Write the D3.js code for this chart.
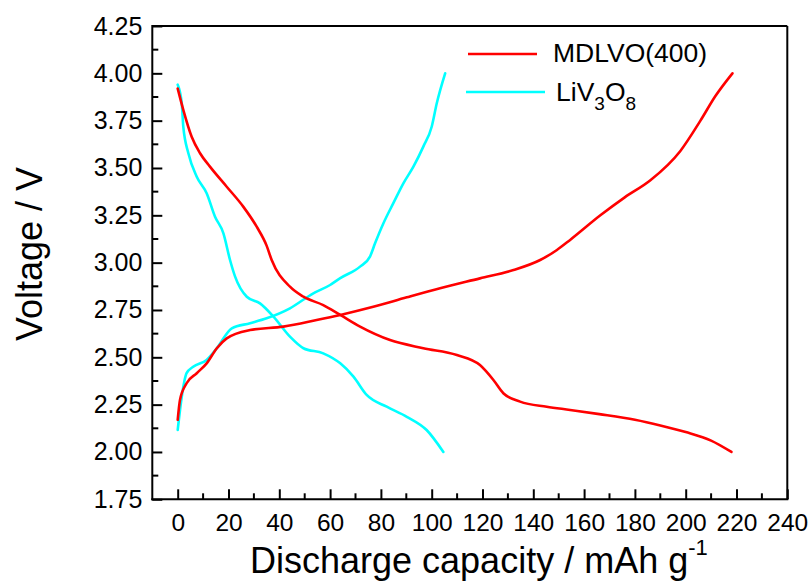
<!DOCTYPE html>
<html>
<head>
<meta charset="utf-8">
<script src="https://cdn.jsdelivr.net/npm/d3@7/dist/d3.min.js"></script>
<style>
  html, body { margin: 0; padding: 0; background: #fff; }
  svg { display: block; font-family: Arial, "Liberation Sans", sans-serif; }
</style>
</head>
<body>
<svg id="chart" width="811" height="585"></svg>
<script>
// Capacity (mAh/g) and voltage (V) for each curve
const mdlvoDischargeCap = [0, 2.2, 5.5, 8.8, 12.7, 19.3, 25.8, 31.1, 35, 37, 44.2, 49.5, 57.3, 64, 71.8, 83.6, 96.7, 109.9, 119, 124.3, 128.2, 134.8, 145.3, 154.5, 166, 180, 190, 200, 210, 218];
const mdlvoDischargeV   = [3.92, 3.807, 3.665, 3.578, 3.507, 3.401, 3.296, 3.19, 3.09, 3.014, 2.873, 2.82, 2.776, 2.724, 2.662, 2.591, 2.548, 2.512, 2.459, 2.38, 2.31, 2.266, 2.239, 2.222, 2.2, 2.17, 2.14, 2.105, 2.06, 2.0];

const mdlvoChargeCap = [0, 0.9, 3.5, 7.5, 11.4, 15.4, 19.3, 28.5, 41.6, 54.7, 64, 77, 90.2, 103.3, 119, 132.2, 142.7, 149.3, 154.5, 166.4, 176, 186.1, 197.9, 205.8, 211.7, 218.4];
const mdlvoChargeV   = [2.17, 2.275, 2.363, 2.416, 2.468, 2.548, 2.6, 2.644, 2.662, 2.697, 2.724, 2.767, 2.817, 2.865, 2.917, 2.961, 3.014, 3.067, 3.12, 3.25, 3.345, 3.435, 3.59, 3.75, 3.88, 4.0];

const lvoDischargeCap = [0, 1.6, 2.2, 4.2, 7.5, 11.4, 14.7, 18, 20.6, 22.6, 27.2, 32.4, 37.7, 44.2, 49.5, 57.3, 64, 69.2, 74.4, 82.3, 90.2, 98, 104.6];
const lvoDischargeV   = [3.94, 3.842, 3.718, 3.578, 3.454, 3.367, 3.243, 3.155, 3.014, 2.926, 2.82, 2.785, 2.715, 2.609, 2.548, 2.521, 2.468, 2.398, 2.301, 2.239, 2.186, 2.116, 2.0];

const lvoChargeCap = [0, 1.6, 3.5, 6.1, 11.4, 15.4, 21.3, 28.5, 35, 44.2, 53.4, 60, 64, 71.8, 75.7, 77.7, 81, 84.9, 88.9, 92.8, 96.7, 100, 102, 105.3];
const lvoChargeV   = [2.116, 2.292, 2.416, 2.45, 2.486, 2.548, 2.653, 2.68, 2.706, 2.759, 2.838, 2.882, 2.918, 2.979, 3.032, 3.102, 3.208, 3.314, 3.42, 3.507, 3.613, 3.718, 3.842, 4.0];

const xTickValues = [0, 20, 40, 60, 80, 100, 120, 140, 160, 180, 200, 220, 240];
const yTickValues = [1.75, 2.00, 2.25, 2.50, 2.75, 3.00, 3.25, 3.50, 3.75, 4.00, 4.25];

const seriesNames = ["MDLVO(400)", "LiV3O8"];
const seriesColors = ["#ff0000", "#00ffff"];

const svg = d3.select("#chart");
const plot = { left: 152.3, right: 787.3, top: 26, bottom: 499.3 };

const x = d3.scaleLinear().domain([-10, 240]).range([plot.left, plot.right]);
const y = d3.scaleLinear().domain([1.75, 4.25]).range([plot.bottom, plot.top]);

// Frame: top and right edges without ticks
svg.append("line").attr("x1", plot.left).attr("x2", plot.right).attr("y1", plot.top).attr("y2", plot.top)
  .attr("stroke", "#000").attr("stroke-width", 2);
svg.append("line").attr("x1", plot.right).attr("x2", plot.right).attr("y1", plot.top).attr("y2", plot.bottom)
  .attr("stroke", "#000").attr("stroke-width", 2);

// Minor ticks (half steps)
const xMinor = d3.range(-10, 241, 20).filter(v => v > -10);
const yMinor = d3.range(1.875, 4.25, 0.25);

const xAxis = d3.axisBottom(x).tickValues(xTickValues).tickSizeInner(-10).tickSizeOuter(0).tickPadding(14)
  .tickFormat(d3.format("d"));
const gx = svg.append("g").attr("transform", `translate(0,${plot.bottom})`).call(xAxis);
gx.select(".domain").attr("stroke-width", 2).attr("d", `M${plot.left - 1},0H${plot.right + 1}`);
gx.selectAll(".tick line").attr("stroke-width", 2);
gx.selectAll(".tick text").attr("font-size", 24.5).attr("font-family", "Arial, 'Liberation Sans', sans-serif").attr("fill", "#000");
gx.selectAll(".minor").data(xMinor).enter().append("line")
  .attr("x1", d => x(d)).attr("x2", d => x(d)).attr("y1", 0).attr("y2", -6)
  .attr("stroke", "#000").attr("stroke-width", 2);

const yAxis = d3.axisLeft(y).tickValues(yTickValues).tickSizeInner(-10).tickSizeOuter(0).tickPadding(10)
  .tickFormat(d3.format(".2f"));
const gy = svg.append("g").attr("transform", `translate(${plot.left},0)`).call(yAxis);
gy.select(".domain").attr("stroke-width", 2).attr("d", `M0,${plot.top - 1}V${plot.bottom + 1}`);
gy.selectAll(".tick line").attr("stroke-width", 2);
gy.selectAll(".tick text").attr("font-size", 25).attr("font-family", "Arial, 'Liberation Sans', sans-serif").attr("fill", "#000");
gy.selectAll(".minor").data(yMinor).enter().append("line")
  .attr("x1", 0).attr("x2", 6).attr("y1", d => y(d)).attr("y2", d => y(d))
  .attr("stroke", "#000").attr("stroke-width", 2);

// Curves
const line = d3.line().x(d => x(d[0])).y(d => y(d[1])).curve(d3.curveMonotoneX);
const zip = (a, b) => a.map((v, i) => [v, b[i]]);
const curves = [
  { pts: zip(lvoDischargeCap, lvoDischargeV), color: seriesColors[1] },
  { pts: zip(lvoChargeCap, lvoChargeV), color: seriesColors[1] },
  { pts: zip(mdlvoDischargeCap, mdlvoDischargeV), color: seriesColors[0] },
  { pts: zip(mdlvoChargeCap, mdlvoChargeV), color: seriesColors[0] }
];
svg.append("g").selectAll("path").data(curves).enter().append("path")
  .attr("d", d => line(d.pts))
  .attr("fill", "none")
  .attr("stroke", d => d.color)
  .attr("stroke-width", 2.6)
  .attr("stroke-linejoin", "round")
  .attr("stroke-linecap", "round");

// Legend
const legend = svg.append("g");
legend.append("line").attr("x1", 468).attr("x2", 537).attr("y1", 54).attr("y2", 54)
  .attr("stroke", seriesColors[0]).attr("stroke-width", 2.6);
legend.append("text").attr("x", 553).attr("y", 62).attr("font-size", 26.5).text(seriesNames[0]);
legend.append("line").attr("x1", 466).attr("x2", 545).attr("y1", 92).attr("y2", 92)
  .attr("stroke", seriesColors[1]).attr("stroke-width", 2.6);
const t2 = legend.append("text").attr("x", 556).attr("y", 101).attr("font-size", 26.5);
t2.append("tspan").text("LiV");
t2.append("tspan").attr("font-size", 19).attr("dy", 9).text("3");
t2.append("tspan").attr("dy", -9).text("O");
t2.append("tspan").attr("font-size", 19).attr("dy", 9).text("8");

// Axis titles
const xt = svg.append("text").attr("x", 250).attr("y", 573).attr("font-size", 36);
xt.append("tspan").text("Discharge capacity / mAh g");
xt.append("tspan").attr("font-size", 22).attr("dy", -18).text("-1");

svg.append("text")
  .attr("transform", "translate(41.5,254) rotate(-90)")
  .attr("text-anchor", "middle")
  .attr("font-size", 36)
  .text("Voltage / V");
</script>
</body>
</html>
